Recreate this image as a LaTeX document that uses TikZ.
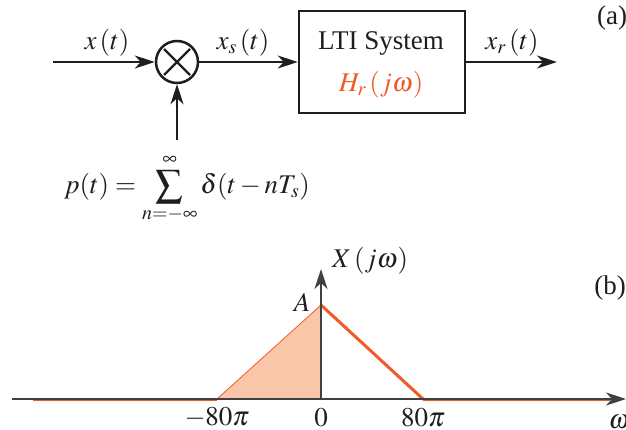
\documentclass[tikz,border=0pt]{standalone}
\usepackage{mathptmx}
\usepackage{fontspec}
\setmainfont{Liberation Serif}
\usetikzlibrary{arrows.meta}
\definecolor{orng}{RGB}{240,90,40}
\definecolor{peach}{RGB}{249,198,170}
\definecolor{ink}{RGB}{30,30,30}
\begin{document}
\begin{tikzpicture}[x=1pt,y=1pt,
  font=\fontsize{27}{32}\selectfont,
  arr/.style={draw=ink,line width=1.5pt,-{Stealth[length=20pt,width=13pt,inset=6pt]}},
  lbl/.style={inner sep=0pt,text=ink},
  mult/.style={draw=ink,circle,line width=2.5pt,minimum size=42pt,inner sep=0pt},
  sysbox/.style={draw=ink,line width=2.5pt,minimum width=166pt,minimum height=102pt,inner sep=0pt},
  axisline/.style={draw=ink!85,line width=1.3pt},
  spec/.style={draw=orng,line width=3pt},
]
\useasboundingbox (0,0) rectangle (626,429);
% ---------- (a) block diagram ----------
\coordinate (in) at (53,367);
\node[mult] (m) at (177,367) {};
\draw[ink,line width=2.2pt] ([shift={(-13,-13)}]m.center) -- ([shift={(13,13)}]m.center);
\draw[ink,line width=2.2pt] ([shift={(-13,13)}]m.center) -- ([shift={(13,-13)}]m.center);
\node[sysbox] (sys) at (382,367) {};
\node[lbl] (lti) at (381,386) {LTI System};
\node[lbl,text=orng] (hr) at (381,344) {$H_r\,(j\omega)$};
\coordinate (out) at (557,367);
\coordinate (pin) at (177,289);
\draw[arr] (in) -- (m);
\draw[arr] (m) -- (sys);
\draw[arr] (sys) -- (out);
\draw[arr] (pin) -- (m);
\node[lbl] (xl) at (107,386) {$x\,(t)$};
\node[lbl] (xsl) at (243,386) {$x_s\,(t)$};
\node[lbl] (xrl) at (512,386) {$x_r\,(t)$};
\node[lbl] (pa) at (612,411) {(a)};
\node[lbl] (pt) at (187,240) {$\displaystyle p(t)=\sum_{n=-\infty}^{\infty}\delta(t-nT_s)$};
% ---------- (b) spectrum ----------
\coordinate (o) at (321,30);
\coordinate (ax0) at (12,30);
\coordinate (ax1) at (626,30);
\coordinate (ay1) at (321,160);
\coordinate (pk) at (321,124);
\coordinate (lb) at (217,30);
\coordinate (rb) at (423,30);
\coordinate (l0) at (33,30);
\coordinate (r0) at (610,30);
\fill[peach] (lb) -- (pk) -- (o) -- cycle;
\draw[orng,line width=0.8pt] (lb) -- (pk);
\draw[spec] (l0) -- (lb);
\draw[spec] (rb) -- (r0);
\draw[spec,line cap=round] (pk) -- (rb);
\draw[axisline,-{Stealth[length=20pt,width=13pt,inset=6pt]}] (ax0) -- (ax1);
\draw[axisline,-{Stealth[length=20pt,width=13pt,inset=6pt]}] (o) -- (ay1);
\node[lbl] (xj) at (370,168) {$X\,(j\omega)$};
\node[lbl] (al) at (302,127) {$A$};
\node[lbl] (pb) at (610,141) {(b)};
\node[lbl] (t1) at (217,11) {$-80\pi$};
\node[lbl] (t2) at (321,11) {$0$};
\node[lbl] (t3) at (423,11) {$80\pi$};
\node[lbl] (w) at (619,7) {$\omega$};
\end{tikzpicture}
\end{document}
